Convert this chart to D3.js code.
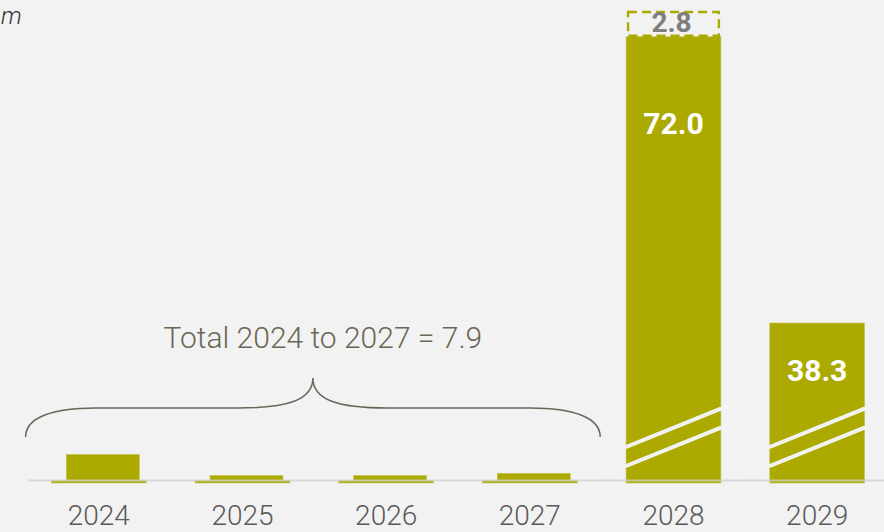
<!DOCTYPE html>
<html>
<head>
<meta charset="utf-8">
<script src="https://cdn.jsdelivr.net/npm/d3@7"></script>
<style>
  html, body { margin: 0; padding: 0; background: #f2f2f2; }
  svg { display: block; }
</style>
</head>
<body>
<svg id="chart" width="884" height="532"></svg>
<script>
// Yearly values, split into the full-width series, the early-year series
// drawn narrower on top of it, and the pending top-up shown as a dashed box.
const years = ["2024", "2025", "2026", "2027", "2028", "2029"];
const mainValues = [0.5, 0.5, 0.5, 0.5, 72.0, 38.3];
const earlyValues = [4.8, 0.9, 0.9, 1.3, 0, 0];
const pendingValues = [0, 0, 0, 0, 2.8, 0];
const unitLabel = "m";
const totalLabel = "Total 2024 to 2027";
const earlyYears = ["2024", "2025", "2026", "2027"];

const W = 884, H = 532;
const OLIVE = "#acaa00";
const BREAK = 8; // values above this sit on the compressed part of the axis
const FONT = "Roboto, 'Liberation Sans', sans-serif";

const svg = d3.select("#chart");
svg.append("rect").attr("width", W).attr("height", H).attr("fill", "#f2f2f2");

const rows = years.map((y, i) => ({
  year: y, main: mainValues[i], early: earlyValues[i], pending: pendingValues[i]
}));

const x = d3.scaleBand().domain(years).range([27, 889])
  .paddingInner(0.34).paddingOuter(0.17);

// Broken value axis: small values get room, large ones are compressed.
const baseY = 483;
const y = d3.scaleLinear()
  .domain([0, BREAK, 38.3, 74.8])
  .range([baseY, baseY - 43.2, baseY - 160, baseY - 470]);

const bw = x.bandwidth();
const narrowW = bw * 0.77;

// full-width bars
svg.append("g").selectAll("rect").data(rows).join("rect")
  .attr("x", d => x(d.year))
  .attr("y", d => y(d.main))
  .attr("width", bw)
  .attr("height", d => y(0) - y(d.main))
  .attr("fill", OLIVE)
  .attr("stroke", "#c4c35a").attr("stroke-width", 0.6);

// narrow early-year bars stacked on the base
svg.append("g").selectAll("rect").data(rows.filter(d => d.early > 0)).join("rect")
  .attr("x", d => x(d.year) + (bw - narrowW) / 2 + 4)
  .attr("y", d => y(d.main + d.early))
  .attr("width", narrowW)
  .attr("height", d => y(d.main) - y(d.main + d.early))
  .attr("fill", OLIVE)
  .attr("stroke", "#c4c35a").attr("stroke-width", 0.6);

// axis-break marks across the tall bars
const tall = rows.filter(d => d.main > BREAK);
const breakG = svg.append("g");
tall.forEach(d => {
  const x0 = x(d.year), x1 = x0 + bw;
  const slope = -0.405;
  [baseY - 36, baseY - 17].forEach(yl => {
    const ext = 40;
    breakG.append("line")
      .attr("x1", x0 - ext).attr("y1", yl - slope * ext)
      .attr("x2", x1 + ext).attr("y2", yl + slope * (bw + ext))
      .attr("stroke", "#f4f4f4").attr("stroke-width", 3);
    breakG.append("line")
      .attr("x1", x0).attr("y1", yl)
      .attr("x2", x1).attr("y2", yl + slope * bw)
      .attr("stroke", "#f2f2f2").attr("stroke-width", 4);
  });
});

// pending top-up as a dashed outline above its bar
const pend = rows.filter(d => d.pending > 0);
svg.append("g").selectAll("rect").data(pend).join("rect")
  .attr("x", d => x(d.year) + 2)
  .attr("y", d => y(d.main + d.pending) - 1)
  .attr("width", bw - 4)
  .attr("height", d => y(d.main) - y(d.main + d.pending))
  .attr("fill", "none")
  .attr("stroke", OLIVE).attr("stroke-width", 2.4)
  .attr("stroke-dasharray", "9 5");

svg.append("g").selectAll("text").data(pend).join("text")
  .attr("x", d => x(d.year) + bw / 2 - 2)
  .attr("y", d => y(d.main + d.pending) + 19)
  .attr("text-anchor", "middle")
  .attr("font-family", FONT)
  .attr("font-weight", 700).attr("font-size", 28)
  .attr("fill", "#7f7f7f")
  .text(d => d3.format(".1f")(d.pending));

// value labels inside the tall bars
svg.append("g").selectAll("text").data(tall).join("text")
  .attr("x", d => x(d.year) + bw / 2)
  .attr("y", d => y(d.main) + 35.5 + 0.1376 * (y(0) - y(d.main)))
  .attr("text-anchor", "middle")
  .attr("font-family", FONT)
  .attr("font-weight", 700).attr("font-size", 30)
  .attr("fill", "#ffffff")
  .text(d => d3.format(".1f")(d.main));

// x axis
const axis = d3.axisBottom(x).tickSize(0).tickSizeOuter(0).tickPadding(25);
const ax = svg.append("g").attr("transform", `translate(0,${baseY - 3})`).call(axis);
ax.select(".domain").attr("stroke", "#cfcfcf").attr("stroke-opacity", 0.75).attr("stroke-width", 2);
ax.selectAll(".tick text")
  .attr("font-family", FONT)
  .attr("font-weight", 300).attr("font-size", 28)
  .attr("fill", "#595959");

// brace spanning the early years with their total
const step = x.step();
const bx0 = x(earlyYears[0]) - 0.18 * step;
const bx1 = x(earlyYears[earlyYears.length - 1]) + bw + 0.16 * step;
const mid = (bx0 + bx1) / 2;
const yEnd = 437, yFlat = 408, yTip = 378;
const brace = d3.path();
brace.moveTo(bx0, yEnd);
brace.bezierCurveTo(bx0, yEnd - 20, bx0 + 28, yFlat, bx0 + 70, yFlat);
brace.lineTo(mid - 75, yFlat);
brace.bezierCurveTo(mid - 25, yFlat, mid, yFlat - 8, mid, yTip);
brace.bezierCurveTo(mid, yFlat - 8, mid + 25, yFlat, mid + 75, yFlat);
brace.lineTo(bx1 - 70, yFlat);
brace.bezierCurveTo(bx1 - 28, yFlat, bx1, yEnd - 20, bx1, yEnd);
svg.append("path").attr("d", brace.toString())
  .attr("fill", "none").attr("stroke", "#6b6555").attr("stroke-width", 1.5);

const earlyTotal = d3.sum(rows.filter(d => earlyYears.includes(d.year)), d => d.early);
svg.append("text")
  .attr("x", mid + 10).attr("y", 348)
  .attr("text-anchor", "middle")
  .attr("font-family", FONT)
  .attr("font-weight", 300).attr("font-size", 30)
  .attr("fill", "#6b6555")
  .text(`${totalLabel} = ${d3.format(".1f")(earlyTotal)}`);

// unit label, top left
svg.append("text")
  .attr("x", 1).attr("y", 24)
  .attr("text-anchor", "start")
  .attr("font-family", FONT)
  .attr("font-style", "italic").attr("font-weight", 300).attr("font-size", 24)
  .attr("fill", "#333333")
  .text(unitLabel);
</script>
</body>
</html>
